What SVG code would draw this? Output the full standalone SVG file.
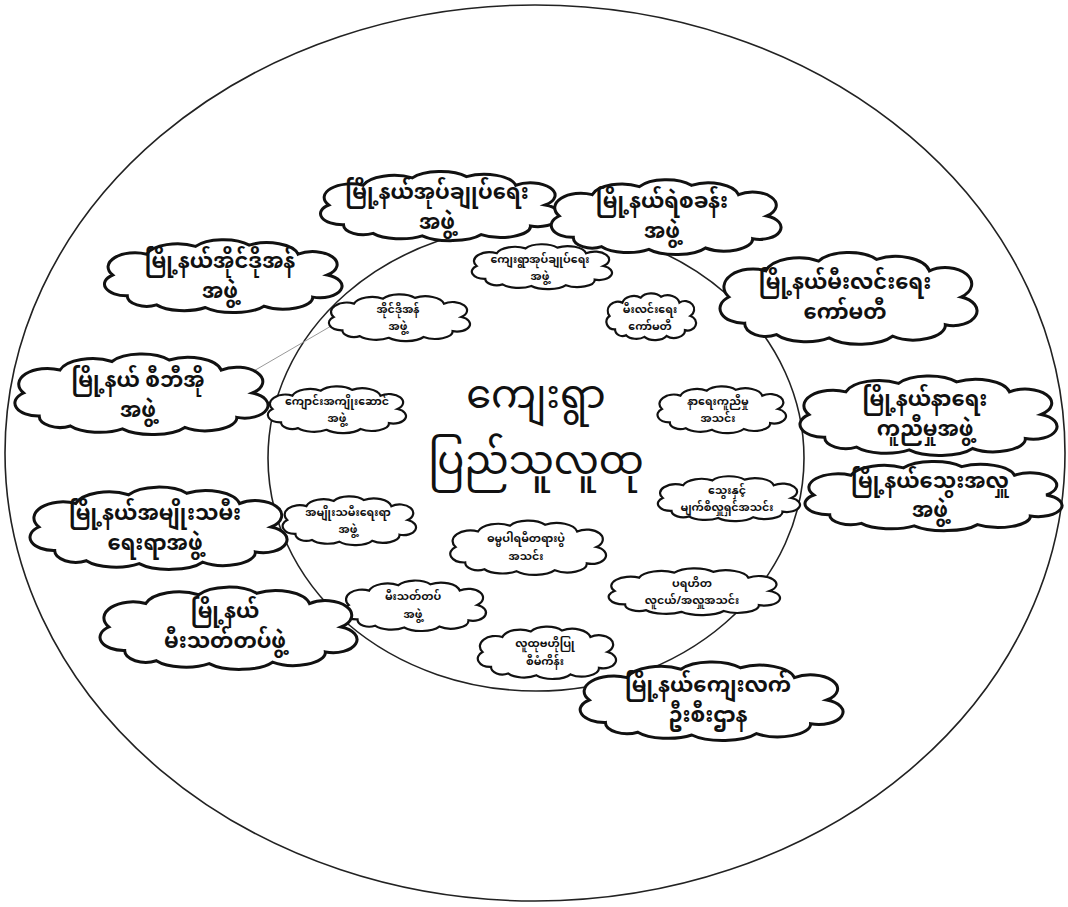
<svg xmlns="http://www.w3.org/2000/svg" width="1068" height="907" viewBox="0 0 1068 907">
<style>
.ring{fill:none;stroke:#222;stroke-width:1.6}
.c-out use{stroke-width:3}
.c-in use{stroke-width:2.2}
text{font-family:"Noto Sans Myanmar","Padauk","Myanmar Text","Noto Sans",sans-serif;text-anchor:middle;fill:#111}
.t-out{font-size:21px;font-weight:bold}
.t-in{font-size:11px;font-weight:bold}
.t-center{font-size:40px}
.conn{stroke:#999;stroke-width:1;fill:none}
</style>
<defs>
<symbol id="cloud" viewBox="0 0 100 60" preserveAspectRatio="none" overflow="visible">
<path fill="#fff" stroke="#111" vector-effect="non-scaling-stroke" d="M12 46 A9 9 0 0 1 6 30 A11 11 0 0 1 20 14 A13 11 0 0 1 40 8 A13 10 0 0 1 62 7 A13 11 0 0 1 82 14 A10 10 0 0 1 94 30 A9 9 0 0 1 88 47 A12 9 0 0 1 68 54 A14 9 0 0 1 44 55 A13 9 0 0 1 24 53 A8 8 0 0 1 12 46 Z"/>
</symbol>
</defs>
<rect width="1068" height="907" fill="#fff"/>
<ellipse class="ring" cx="535" cy="453" rx="530" ry="448"/>
<ellipse class="ring" cx="536" cy="458" rx="268" ry="233"/>
<g id="connectors">
<line class="conn" x1="252" y1="372" x2="338" y2="322"/>
</g>
<g id="center">
<text class="t-center" x="536" y="408">ကျေးရွာ<tspan x="536" y="474">ပြည်သူလူထု</tspan></text>
</g>
<g id="in-admin" class="c-in"><use href="#cloud" x="468" y="242" width="144" height="48"/><text class="t-in" x="540" y="263">ကျေးရွာအုပ်ချုပ်ရေး<tspan x="540" y="280">အဖွဲ့</tspan></text></g>
<g id="in-light" class="c-in"><use href="#cloud" x="604" y="291" width="92" height="50"/><text class="t-in" x="650" y="313">မီးလင်းရေး<tspan x="650" y="330">ကော်မတီ</tspan></text></g>
<g id="in-ido" class="c-in"><use href="#cloud" x="325" y="292" width="145" height="50"/><text class="t-in" x="398" y="313">အိုင်ဒိုအန်<tspan x="398" y="330">အဖွဲ့</tspan></text></g>
<g id="in-school" class="c-in"><use href="#cloud" x="264" y="384" width="142" height="50"/><text class="t-in" x="337" y="405">ကျောင်းအကျိုးဆောင်<tspan x="337" y="422">အဖွဲ့</tspan></text></g>
<g id="in-funeral" class="c-in"><use href="#cloud" x="654" y="384" width="132" height="50"/><text class="t-in" x="718" y="405">နာရေးကူညီမှု<tspan x="718" y="422">အသင်း</tspan></text></g>
<g id="in-blood" class="c-in"><use href="#cloud" x="654" y="474" width="146" height="48"/><text class="t-in" x="727" y="494">သွေးနှင့်<tspan x="727" y="511">မျက်စိလှူရှင်အသင်း</tspan></text></g>
<g id="in-women" class="c-in"><use href="#cloud" x="279" y="494" width="137" height="52"/><text class="t-in" x="348" y="516">အမျိုးသမီးရေးရာ<tspan x="348" y="533">အဖွဲ့</tspan></text></g>
<g id="in-dhamma" class="c-in"><use href="#cloud" x="446" y="518" width="160" height="58"/><text class="t-in" x="526" y="542">ဓမ္မပါရမီတရားပွဲ<tspan x="526" y="560">အသင်း</tspan></text></g>
<g id="in-charity" class="c-in"><use href="#cloud" x="604" y="566" width="176" height="50"/><text class="t-in" x="692" y="587">ပရဟိတ<tspan x="692" y="604">လူငယ်/အလှူအသင်း</tspan></text></g>
<g id="in-fire" class="c-in"><use href="#cloud" x="340" y="578" width="146" height="54"/><text class="t-in" x="413" y="600">မီးသတ်တပ်<tspan x="413" y="618">အဖွဲ့</tspan></text></g>
<g id="in-cdd" class="c-in"><use href="#cloud" x="474" y="624" width="142" height="56"/><text class="t-in" x="545" y="647">လူထုဗဟိုပြု<tspan x="545" y="665">စီမံကိန်း</tspan></text></g>
<g id="out-admin" class="c-out"><use href="#cloud" x="314" y="168" width="246" height="74"/><text class="t-out" x="437" y="199">မြို့နယ်အုပ်ချုပ်ရေး<tspan x="437" y="229">အဖွဲ့</tspan></text></g>
<g id="out-police" class="c-out"><use href="#cloud" x="545" y="176" width="236" height="80"/><text class="t-out" x="662" y="208">မြို့နယ်ရဲစခန်း<tspan x="662" y="238">အဖွဲ့</tspan></text></g>
<g id="out-ido" class="c-out"><use href="#cloud" x="98" y="236" width="244" height="78"/><text class="t-out" x="220" y="268">မြို့နယ်အိုင်ဒိုအန်<tspan x="220" y="298">အဖွဲ့</tspan></text></g>
<g id="out-light" class="c-out"><use href="#cloud" x="713" y="248" width="264" height="98"/><text class="t-out" x="845" y="289">မြို့နယ်မီးလင်းရေး<tspan x="845" y="319">ကော်မတီ</tspan></text></g>
<g id="out-cbo" class="c-out"><use href="#cloud" x="8" y="350" width="260" height="86"/><text class="t-out" x="138" y="387">မြို့နယ် စီဘီအို<tspan x="138" y="417">အဖွဲ့</tspan></text></g>
<g id="out-funeral" class="c-out"><use href="#cloud" x="793" y="372" width="264" height="85"/><text class="t-out" x="925" y="406">မြို့နယ်နာရေး<tspan x="925" y="436">ကူညီမှုအဖွဲ့</tspan></text></g>
<g id="out-blood" class="c-out"><use href="#cloud" x="798" y="458" width="264" height="74"/><text class="t-out" x="930" y="488">မြို့နယ်သွေးအလှူ<tspan x="930" y="517">အဖွဲ့</tspan></text></g>
<g id="out-women" class="c-out"><use href="#cloud" x="23" y="483" width="264" height="88"/><text class="t-out" x="155" y="520">မြို့နယ်အမျိုးသမီး<tspan x="155" y="550">ရေးရာအဖွဲ့</tspan></text></g>
<g id="out-fire" class="c-out"><use href="#cloud" x="93" y="583" width="264" height="88"/><text class="t-out" x="225" y="618">မြို့နယ်<tspan x="225" y="648">မီးသတ်တပ်ဖွဲ့</tspan></text></g>
<g id="out-rural" class="c-out"><use href="#cloud" x="573" y="658" width="270" height="84"/><text class="t-out" x="708" y="692">မြို့နယ်ကျေးလက်<tspan x="708" y="722">ဦးစီးဌာန</tspan></text></g>
</svg>
